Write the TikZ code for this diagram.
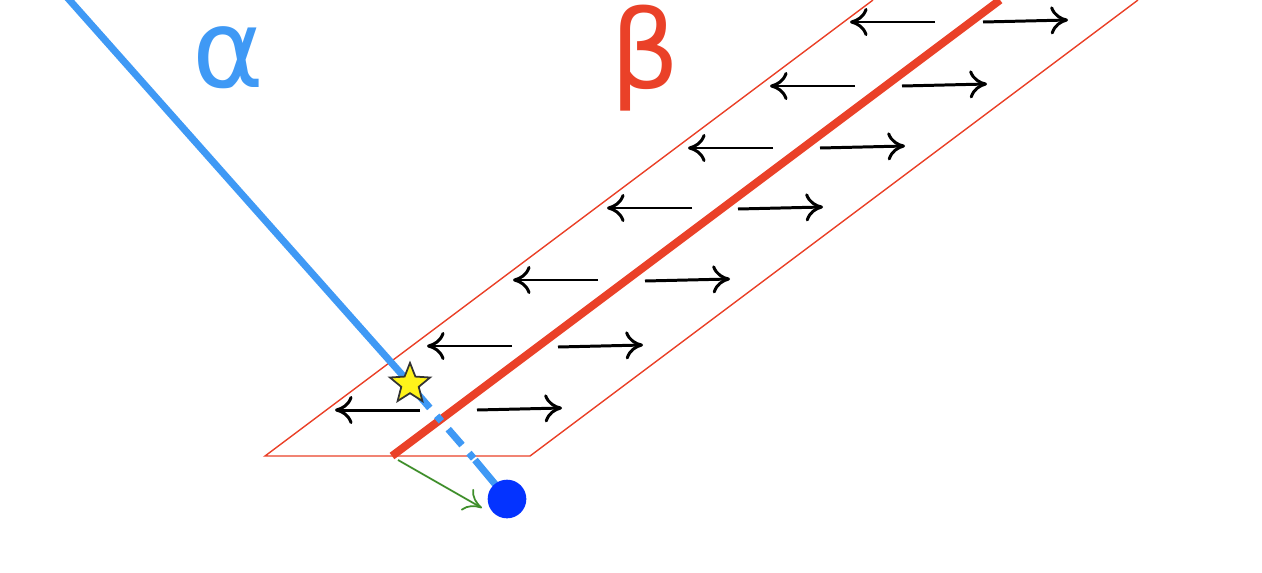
\documentclass[tikz,border=0pt]{standalone}
\usepackage{fontspec}
\setmainfont{DejaVu Sans}
\usetikzlibrary{arrows.meta,shapes.geometric}
\definecolor{alphablue}{HTML}{3F99F5}
\definecolor{dotblue}{HTML}{0433FF}
\definecolor{betared}{HTML}{EA4128}
\definecolor{slipgreen}{HTML}{3E8E2A}
\tikzset{
  flow/.style={line width=1.7pt, -{To[length=10pt,width=16pt]}},
  redline/.style={betared, line width=0.8pt}
}
\begin{document}
\begin{tikzpicture}[x=0.02cm,y=-0.02cm]
	\useasboundingbox (0,0) rectangle (1262,572);
	\begin{scope}
		\clip (0,0) rectangle (1262,572);
		% plane
		\draw[redline] (873,0) -- (265,456) -- (530,456) -- (1138,0);
		\draw[betared, line width=4.5pt] (392,456) -- (1000,0);
		% arrows on the plane
		\foreach \lx/\ly/\rx/\ry in {935/22/983/22, 855/86/902/86, 773/148/820/148, 692/208/738/209, 598/280/645/281, 512/346/558/347, 420/410/477/410}{
			\draw[flow] (\lx,\ly) -- ++(-85,0);
			\draw[flow] (\rx,\ry) -- ++(85,-2);
		}
		% ray
		\draw[alphablue, line width=4pt] (65,-5) -- (405,378);
		\draw[alphablue, line width=4pt, dash pattern=on 12pt off 6pt on 4pt off 6pt] (416,392) -- (475,460);
		\draw[alphablue, line width=4pt] (475,460) -- (500,490);
	\end{scope}
	\node[circle, fill=dotblue, minimum size=22pt, inner sep=0pt] (dot) at (507,499) {};
	\node[star, star points=5, star point ratio=2.3, draw=black!80, line width=1pt, fill=yellow!90!white, minimum size=24pt, inner sep=0pt] (hit) at (410,384) {};
	\coordinate (foot) at (398,460);
	\draw[slipgreen, line width=1pt, -{To[length=10pt,width=14pt]}] (foot) -- (482,508);
	\node[alphablue, font=\fontsize{62}{62}\selectfont] (alpha) at (228,58) {α};
	\node[betared, font=\fontsize{62}{62}\selectfont] (beta) at (645,58) {β};
\end{tikzpicture}
\end{document}
